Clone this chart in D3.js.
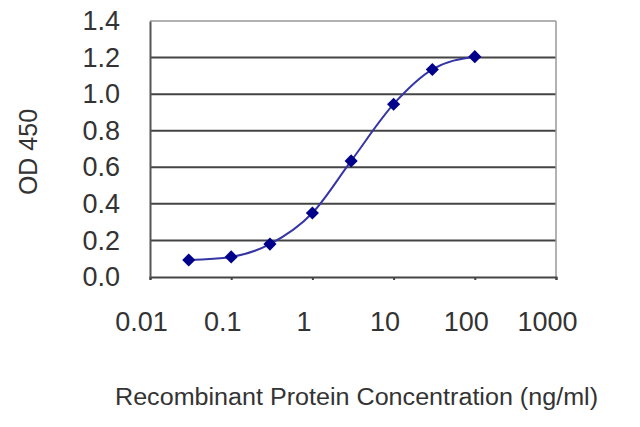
<!DOCTYPE html>
<html>
<head>
<meta charset="utf-8">
<script src="https://cdn.jsdelivr.net/npm/d3@7"></script>
<style>
  body { margin: 0; background: #fff; }
  svg { display: block; }
  text { font-family: "Liberation Sans", Arial, sans-serif; fill: #333; }
</style>
</head>
<body>
<div id="chart"></div>
<script>
// concentration (ng/ml) and OD 450
const concentrations = [0.03, 0.1, 0.3, 1, 3, 10, 30, 100];
const odValues = [0.093, 0.11, 0.18, 0.35, 0.635, 0.945, 1.135, 1.205];
const xTicks = [0.01, 0.1, 1, 10, 100, 1000];
const yTicks = [0, 0.2, 0.4, 0.6, 0.8, 1.0, 1.2, 1.4];

const width = 640, height = 427;
const margin = { top: 21, right: 84, bottom: 150, left: 150 };

const svg = d3.select("#chart").append("svg")
    .attr("width", width)
    .attr("height", height);

const x = d3.scaleLog()
    .domain([0.01, 1000])
    .range([margin.left, width - margin.right]);

const y = d3.scaleLinear()
    .domain([0, 1.4])
    .range([height - margin.bottom, margin.top]);

// gridlines
svg.append("g")
    .selectAll("line")
    .data(yTicks.filter(d => d > 0 && d < 1.4))
    .join("line")
    .attr("x1", margin.left)
    .attr("x2", width - margin.right)
    .attr("y1", d => y(d))
    .attr("y2", d => y(d))
    .attr("stroke", "#444")
    .attr("stroke-width", 2);

// frame: light top/right, dark left/bottom
svg.append("line")
    .attr("x1", margin.left).attr("x2", width - margin.right)
    .attr("y1", y(1.4)).attr("y2", y(1.4))
    .attr("stroke", "#999").attr("stroke-width", 1.5);
svg.append("line")
    .attr("x1", width - margin.right).attr("x2", width - margin.right)
    .attr("y1", y(1.4)).attr("y2", y(0))
    .attr("stroke", "#999").attr("stroke-width", 1.5);

const yAxis = g => g
    .attr("transform", `translate(${margin.left},0)`)
    .call(d3.axisLeft(y).tickValues(yTicks).tickSize(0).tickPadding(30)
        .tickFormat(d3.format(".1f")))
    .call(g => g.select(".domain").attr("stroke", "#555").attr("stroke-width", 2))
    .call(g => g.selectAll("text")
        .attr("font-size", 27)
        .attr("font-family", "Liberation Sans, Arial, sans-serif")
        .attr("fill", "#333"));

const xAxis = g => g
    .attr("transform", `translate(0,${height - margin.bottom})`)
    .call(d3.axisBottom(x).tickValues(xTicks).tickSize(3).tickPadding(32)
        .tickFormat(d => String(d)))
    .call(g => g.select(".domain").attr("stroke", "#444").attr("stroke-width", 2))
    .call(g => g.selectAll(".tick line").attr("stroke", "#444").attr("stroke-width", 2))
    .call(g => g.selectAll("text")
        .attr("font-size", 27)
        .attr("dx", -9)
        .attr("font-family", "Liberation Sans, Arial, sans-serif")
        .attr("fill", "#333"));

svg.append("g").call(xAxis);
svg.append("g").call(yAxis);

// titles
svg.append("text")
    .attr("x", 115)
    .attr("y", 405)
    .attr("font-size", 23)
    .attr("textLength", 483)
    .attr("lengthAdjust", "spacingAndGlyphs")
    .text("Recombinant Protein Concentration (ng/ml)");

svg.append("text")
    .attr("transform", "translate(37,152) rotate(-90)")
    .attr("text-anchor", "middle")
    .attr("font-size", 25)
    .text("OD 450");

// curve and markers
const points = concentrations.map((c, i) => ({ c: c, v: odValues[i] }));

const line = d3.line()
    .x(d => x(d.c))
    .y(d => y(d.v))
    .curve(d3.curveMonotoneX);

svg.append("path")
    .datum(points)
    .attr("fill", "none")
    .attr("stroke", "#3535a5")
    .attr("stroke-width", 2)
    .attr("d", line);

svg.append("g")
    .selectAll("path")
    .data(points)
    .join("path")
    .attr("transform", d => `translate(${x(d.c)},${y(d.v)})`)
    .attr("d", d3.symbol(d3.symbolDiamond2, 110))
    .attr("fill", "#00008b");
</script>
</body>
</html>
